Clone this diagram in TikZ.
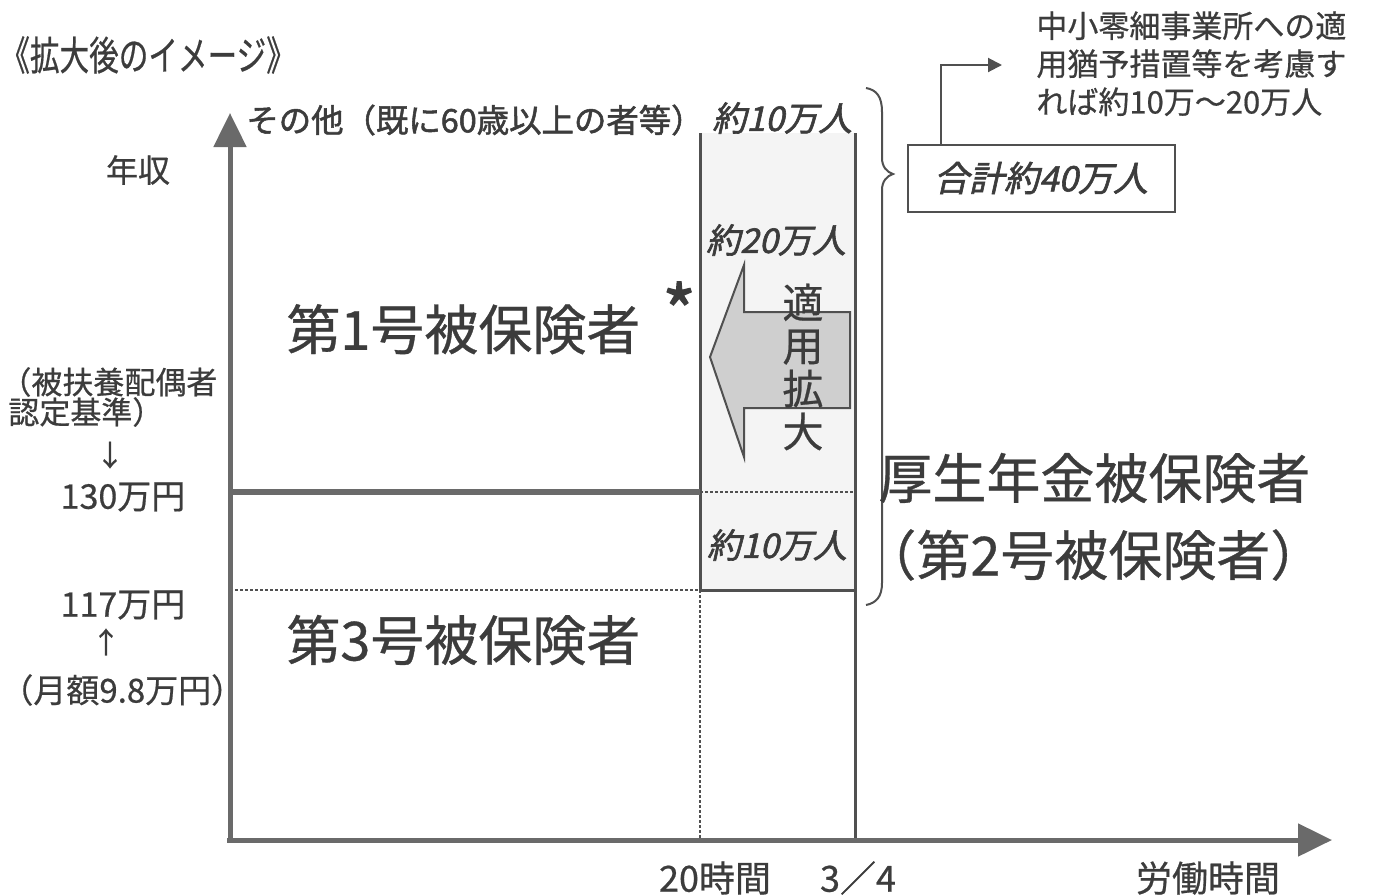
\documentclass[tikz,border=0pt]{standalone}
\usepackage{fontspec}
\setmainfont[FakeBold=0.6]{Noto Sans CJK JP}
\newfontfamily\bdfont[FakeBold=1.6]{Noto Sans CJK JP}
\newfontfamily\bifont[FakeBold=1.8,FakeSlant=0.22]{Noto Sans CJK JP}
\usetikzlibrary{arrows.meta}
\definecolor{ink}{HTML}{3C3C3C}
\definecolor{linec}{HTML}{505050}
\definecolor{axisc}{HTML}{6A6A6A}
\newcommand\fsz[1]{\fontsize{#1}{#1}\selectfont}
\begin{document}
\begin{tikzpicture}[x=0.5pt,y=-0.5pt,
  txt/.style={inner sep=0pt, text=ink},
  axisline/.style={draw=axisc, line width=2.5pt, -{Triangle[length=17pt,width=16pt]}},
  bar/.style={draw=linec, line width=1.5pt},
  thickbar/.style={draw=axisc, line width=3pt},
  dotline/.style={draw=linec, line width=0.6pt, dash pattern=on 1.5pt off 1pt},
  boxline/.style={draw=linec, line width=1pt}]
\useasboundingbox (0,0) rectangle (1376,895);
\fill[white] (0,0) rectangle (1376,895);

% shaded strip
\fill[gray!9] (700,133) rectangle (855,590);

% coordinates
\coordinate (O) at (230,843);
\coordinate (ytop) at (230,113);
\coordinate (xstart) at (227,840);
\coordinate (xend) at (1332,840);
\coordinate (a1) at (700,133);
\coordinate (a2) at (700,590);
\coordinate (a3) at (700,840);
\coordinate (b1) at (855,133);
\coordinate (b2) at (855,840);
\coordinate (h1l) at (230,492);
\coordinate (h1m) at (700,492);
\coordinate (h1r) at (855,492);
\coordinate (h2l) at (230,590);
\coordinate (h2r) at (855,590);

% strip lines
\draw[bar] (a1) -- (a2);
\draw[dotline] (a2) -- (a3);
\draw[bar] (b1) -- (b2);
\draw[thickbar] (h1l) -- (h1m);
\draw[dotline] (h1m) -- (h1r);
\draw[dotline] (h2l) -- (a2);
\draw[bar] (a2) -- (h2r);

% axes
\draw[axisline] (O) -- (ytop);
\draw[axisline] (xstart) -- (xend);

% big left arrow
\filldraw[fill=gray!38, draw=linec, line width=1pt]
  (710,357) -- (744,265) -- (744,312) -- (850,312) -- (850,408) -- (744,408) -- (744,457) -- cycle;
\node[txt, align=center, font=\fontsize{20.5pt}{21.5pt}\selectfont] (tekiyo) at (803,367) {適\\用\\拡\\大};

% brace
\draw[linec, line width=1pt]
  (866,88) .. controls (877,90) and (882,97) .. (882,112) -- (882,158)
  .. controls (882,167) and (887,172) .. (893,174)
  .. controls (887,176) and (882,181) .. (882,190) -- (882,583)
  .. controls (882,597) and (876,603) .. (866,605);

% texts
\node[txt, anchor=west, font=\fsz{20pt}] (title) at (0,55) {\scalebox{0.74}[1]{《拡大後のイメージ》}};
\node[txt, font=\fsz{16pt}] (ylab) at (138,170) {年収};
\node[txt, anchor=west, font=\bdfont\fsz{16.2pt}] (other) at (246,120) {その他（既に60歳以上の者等）};
\node[txt, anchor=west, font=\bifont\fsz{17pt}] (n10a) at (712,118) {約10万人};
\node[txt, font=\bifont\fsz{17pt}] (n20) at (776,240) {約20万人};
\node[txt, font=\bifont\fsz{17pt}] (n10b) at (777,545) {約10万人};

\node[boxline, text=ink, inner sep=0pt, minimum width=133.5pt, minimum height=33.5pt,
      font=\bifont\fsz{17.5pt}] (total) at (1041,178) {合計約40万人};
\coordinate (arrowend) at (1002,65);
\draw[linec, line width=1pt, -{Triangle[length=7pt,width=7pt]}] ([xshift=17pt]total.north west) |- (arrowend);
\node[txt, anchor=north west, align=left, font=\fontsize{15.5pt}{19pt}\selectfont] (note) at (1036,11)
  {中小零細事業所への適\\用猶予措置等を考慮す\\れば約10万～20万人};

\node[txt, anchor=west, font=\fsz{15.5pt}] (dep1) at (0,382) {（被扶養配偶者};
\node[txt, anchor=west, font=\fsz{15.5pt}] (dep2) at (8,412) {認定基準）};
\node[txt, font=\fsz{14.5pt}] (darr) at (110,455) {↓};
\node[txt, font=\fsz{17pt}] (y130) at (123,497) {130万円};
\node[txt, font=\fsz{17pt}] (y117) at (123,605) {117万円};
\node[txt, font=\fsz{14.5pt}] (uarr) at (106,642) {↑};
\node[txt, anchor=west, font=\fsz{16.5pt}] (monthly) at (0,690) {（月額9.8万円）};

\node[txt, anchor=west, font=\fsz{27pt}] (first) at (286,318) {第1号被保険者\hspace{11pt}\raisebox{0.2em}{\bdfont\fsz{36pt}*}};
\node[txt, anchor=west, font=\fsz{27pt}] (third) at (286,640) {第3号被保険者};
\node[txt, anchor=west, font=\fsz{27pt}] (kosei) at (878,478) {厚生年金被保険者};
\node[txt, anchor=west, font=\fsz{27pt}] (second) at (862,555) {（第2号被保険者）};

\node[txt, font=\fsz{18pt}] (h20) at (715,878) {20時間};
\node[txt, font=\fsz{18pt}] (q34) at (858,878) {3／4};
\node[txt, font=\fsz{18pt}] (labor) at (1208,878) {労働時間};
\end{tikzpicture}
\end{document}
